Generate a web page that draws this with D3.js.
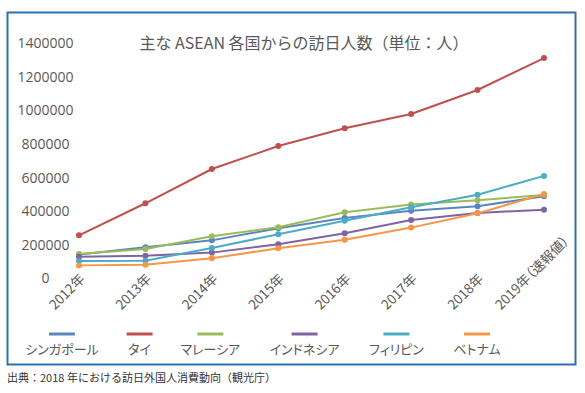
<!DOCTYPE html>
<html>
<head>
	<meta charset="utf-8" />
	<script src="https://cdn.jsdelivr.net/npm/d3@7"></script>
	<style>
		body { margin: 0; background: #fff; }
		text { font-family: "Open Sans", "Noto Sans CJK JP", sans-serif; fill: #595959; }
		.jp { font-family: "Noto Sans CJK JP", sans-serif; }
		.palt { font-feature-settings: "palt"; }
	</style>
</head>
<body>
	<script>
		var width = 585;
		var height = 393;

		// 年
		var years = ["2012年", "2013年", "2014年", "2015年", "2016年", "2017年", "2018年", "2019年（速報値）"];
		var countries = ["シンガポール", "タイ", "マレーシア", "インドネシア", "フィリピン", "ベトナム"];
		var colors = ["#5a86bd", "#c0504d", "#9bbb59", "#8064a2", "#4bacc6", "#f79646"];

		var singapore = [142000, 185000, 226000, 298000, 359000, 403000, 429000, 489000];
		var thai = [256000, 447000, 651000, 788000, 894000, 979000, 1122000, 1312000];
		var malaysia = [145000, 175000, 250000, 304000, 393000, 439000, 465000, 496000];
		var indonesia = [129000, 135000, 153000, 203000, 268000, 347000, 389000, 409000];
		var philippines = [103000, 105000, 181000, 262000, 343000, 423000, 498000, 610000];
		var vietnam = [77000, 81000, 119000, 179000, 230000, 302000, 387000, 502000];
		var series = [singapore, thai, malaysia, indonesia, philippines, vietnam];

		var yTicks = [0, 200000, 400000, 600000, 800000, 1000000, 1200000, 1400000];

		var title = "主な ASEAN 各国からの訪日人数（単位：人）";
		var source = "出典：2018 年における訪日外国人消費動向（観光庁）";

		var svg = d3.select("body")
			.append("svg")
			.attr("width", width)
			.attr("height", height);

		// 枠
		svg.append("rect")
			.attr("x", 7.5)
			.attr("y", 12.5)
			.attr("width", 568)
			.attr("height", 352)
			.attr("fill", "#fff")
			.attr("stroke", "#3072a8")
			.attr("stroke-width", 2);

		svg.append("text")
			.attr("class", "jp")
			.attr("x", 304)
			.attr("y", 49)
			.attr("text-anchor", "middle")
			.style("font-size", "16px")
			.text(title);

		var x = d3.scalePoint().domain(years).range([79, 544]);
		var y = d3.scaleLinear().domain([0, 1400000]).range([278.3, 43.3]);

		// y軸（ラベルは中央そろえ）
		var yAxis = svg.append("g")
			.attr("transform", "translate(45.5,0)")
			.call(d3.axisLeft(y).tickValues(yTicks).tickSize(0).tickPadding(0).tickFormat(d3.format("d")));
		yAxis.select(".domain").remove();
		yAxis.selectAll("text")
			.attr("text-anchor", "middle")
			.style("font-size", "14px")
			.style("font-family", "'Open Sans', sans-serif")
			.attr("fill", "#595959");

		// x軸ラベル（下端そろえ）
		var xl = svg.append("g").selectAll("text")
			.data(years)
			.enter().append("text")
			.attr("class", "jp palt")
			.attr("text-anchor", "middle")
			.attr("dy", "0.35em")
			.style("font-size", "13.5px")
			.text(function(d) { return d; });
		xl.attr("transform", function(d) {
			var L = this.getComputedTextLength();
			var cx = x(d) - 12;
			var cy = 312 - (L + 13.5) * 0.3536;
			return "translate(" + cx + "," + cy + ") rotate(-45)";
		});

		var line = d3.line()
			.x(function(d, i) { return x(years[i]); })
			.y(function(d) { return y(d); });

		series.forEach(function(s, k) {
			var g = svg.append("g");
			g.append("path")
				.attr("d", line(s))
				.attr("fill", "none")
				.attr("stroke", colors[k])
				.attr("stroke-width", 2);
			g.selectAll("circle")
				.data(s)
				.enter().append("circle")
				.attr("cx", function(d, i) { return x(years[i]); })
				.attr("cy", function(d) { return y(d); })
				.attr("r", 3)
				.attr("fill", colors[k]);
		});

		// 凡例
		var leg = svg.append("g").selectAll("g")
			.data(countries)
			.enter().append("g");
		leg.append("text")
			.attr("class", "jp palt")
			.attr("y", 354)
			.attr("text-anchor", "middle")
			.style("font-size", "13px")
			.text(function(d) { return d; });
		var widths = [];
		leg.select("text").each(function() { widths.push(this.getComputedTextLength()); });
		var first = 62, last = 477;
		var inner = d3.sum(widths) - widths[0] / 2 - widths[widths.length - 1] / 2;
		var pad = (last - first - inner) / (widths.length - 1);
		var centers = [first];
		for (var i = 1; i < widths.length; i++) {
			centers.push(centers[i - 1] + (widths[i - 1] + widths[i]) / 2 + pad);
		}
		leg.attr("transform", function(d, i) { return "translate(" + centers[i] + ",0)"; });
		leg.append("line")
			.attr("x1", -13)
			.attr("x2", 13)
			.attr("y1", 334)
			.attr("y2", 334)
			.attr("stroke", function(d, i) { return colors[i]; })
			.attr("stroke-width", 3);

		svg.append("text")
			.attr("class", "jp")
			.attr("x", 7)
			.attr("y", 382)
			.style("font-size", "11px")
			.style("fill", "#333")
			.text(source);
	</script>
</body>
</html>
